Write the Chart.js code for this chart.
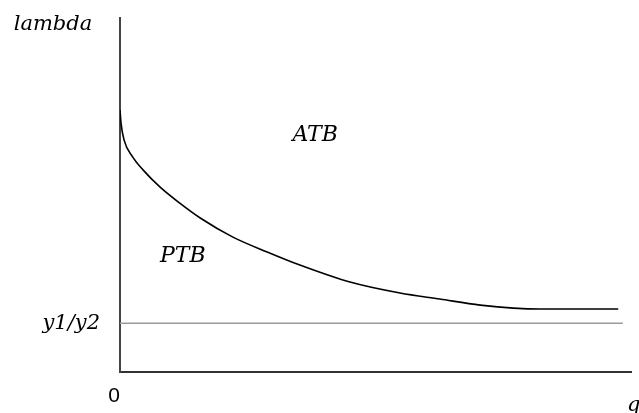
<!DOCTYPE html>
<html>
<head>
<meta charset="utf-8">
<script src="https://cdn.jsdelivr.net/npm/chart.js@4.4.0/dist/chart.umd.min.js"></script>
<style>
    html, body { margin: 0; padding: 0; background: #fff; }
    #chart { display: block; }
</style>
</head>
<body>
<canvas id="chart" width="639" height="413"></canvas>
<script>
// boundary curve between the two regions (q on x, lambda on y, arbitrary units 0-100)
const curveQ = [0, 0.2, 0.8, 2.5, 4.5, 7.8, 11.7, 15.7, 22.1, 28.8, 35.2, 45.0, 54.8, 62.6, 70.5, 82.2, 97.5];
const curveLambda = [74.0, 70.3, 65.5, 60.7, 57.1, 52.3, 47.7, 43.5, 38.1, 33.9, 30.2, 25.4, 22.3, 20.6, 18.9, 17.8, 17.8];

// horizontal reference level y1/y2
const ratioLevel = 13.8;
const ratioLineQ = [0, 98.4];

const xTickLabels = ['0'];
const yTickLabels = ['y1/y2'];

const regionLabels = ['ATB', 'PTB'];
const regionQ = [38.2, 12.3];
const regionLambda = [67, 32.8];

const axisNames = ['q', 'lambda'];

const serif = 'italic 22px "DejaVu Serif", "Liberation Serif", serif';

const labelsPlugin = {
    id: 'labels',
    afterDraw(chart) {
        const ctx = chart.ctx;
        const xs = chart.scales.x;
        const ys = chart.scales.y;
        const area = chart.chartArea;
        ctx.save();
        ctx.fillStyle = '#000';
        ctx.font = serif;
        ctx.textAlign = 'center';
        ctx.textBaseline = 'middle';
        regionLabels.forEach((txt, i) => {
            ctx.fillText(txt, xs.getPixelForValue(regionQ[i]), ys.getPixelForValue(regionLambda[i]));
        });
        ctx.font = 'italic 21px "DejaVu Serif", "Liberation Serif", serif';
        ctx.fillText(axisNames[1], area.left - 67, area.top + 7);
        ctx.textAlign = 'left';
        ctx.fillText(axisNames[0], area.right - 4, area.bottom + 34);
        ctx.restore();
    }
};

const ctx = document.getElementById('chart').getContext('2d');
new Chart(ctx, {
    type: 'scatter',
    data: {
        datasets: [
            {
                data: curveQ.map((q, i) => ({ x: q, y: curveLambda[i] })),
                showLine: true,
                borderColor: '#000',
                borderWidth: 1.6,
                pointRadius: 0,
                cubicInterpolationMode: 'monotone'
            },
            {
                data: ratioLineQ.map(q => ({ x: q, y: ratioLevel })),
                showLine: true,
                borderColor: '#9a9a9a',
                borderWidth: 1.5,
                pointRadius: 0
            }
        ]
    },
    options: {
        responsive: false,
        animation: false,
        layout: { padding: { top: 18, right: 8, left: 0, bottom: 0 } },
        plugins: {
            legend: { display: false },
            tooltip: { enabled: false }
        },
        scales: {
            x: {
                type: 'linear',
                min: 0,
                max: 100,
                afterFit: (scale) => {
                    scale.height = 41;
                    scale.paddingLeft = 0;
                    scale.paddingRight = 0;
                },
                afterBuildTicks: (scale) => { scale.ticks = [{ value: 0 }]; },
                grid: { display: false, drawTicks: false },
                border: { display: true, color: '#333', width: 2 },
                ticks: {
                    padding: 12,
                    labelOffset: -6,
                    color: '#000',
                    font: { family: '"Liberation Sans", Arial, sans-serif', size: 21 },
                    callback: (v) => xTickLabels[0]
                }
            },
            y: {
                type: 'linear',
                min: 0,
                max: 100,
                afterFit: (scale) => {
                    scale.width = 120;
                    scale.paddingTop = 0;
                    scale.paddingBottom = 0;
                },
                afterBuildTicks: (scale) => { scale.ticks = [{ value: ratioLevel }]; },
                grid: { display: false, drawTicks: false },
                border: { display: true, color: '#444', width: 2 },
                ticks: {
                    padding: 20,
                    color: '#000',
                    font: { family: '"DejaVu Serif", "Liberation Serif", serif', size: 21, style: 'italic' },
                    callback: (v) => yTickLabels[0]
                }
            }
        }
    },
    plugins: [labelsPlugin]
});
</script>
</body>
</html>
